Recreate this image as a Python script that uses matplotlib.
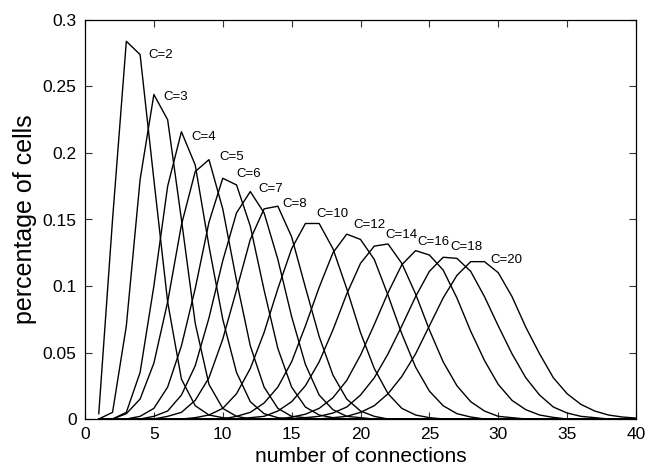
import numpy as np
import matplotlib
matplotlib.use("Agg")
import matplotlib.pyplot as plt

plt.rcParams['font.family'] = ['Liberation Sans', 'DejaVu Sans']

# ----- data: fraction of cells vs number of connections, one curve per C ----- #

connections = np.arange(1, 41)

c2 = [0.004, 0.15, 0.284, 0.274, 0.18, 0.088, 0.03, 0.01, 0.003, 0.001]
c3 = [0, 0.005, 0.07, 0.18, 0.244, 0.225, 0.15, 0.072, 0.026, 0.008, 0.002]
c4 = [0, 0, 0.005, 0.035, 0.10, 0.175, 0.216, 0.191, 0.13, 0.075, 0.035, 0.013, 0.004, 0.001]
c5 = [0, 0, 0.004, 0.015, 0.042, 0.088, 0.146, 0.186, 0.195, 0.158, 0.104, 0.055,
      0.024, 0.008, 0.002, 0.001]
c6 = [0, 0, 0, 0.002, 0.008, 0.024, 0.055, 0.098, 0.148, 0.181, 0.176, 0.145, 0.097,
      0.053, 0.024, 0.009, 0.003, 0.001]
c7 = [0, 0, 0, 0, 0.002, 0.006, 0.018, 0.04, 0.076, 0.119, 0.155, 0.171, 0.155, 0.12,
      0.077, 0.041, 0.018, 0.007, 0.002, 0.001]
c8 = [0, 0, 0, 0, 0, 0.002, 0.005, 0.014, 0.031, 0.06, 0.097, 0.135, 0.158, 0.16,
      0.137, 0.099, 0.062, 0.033, 0.015, 0.006, 0.002]
c10 = [0, 0, 0, 0, 0, 0, 0, 0.001, 0.003, 0.008, 0.019, 0.038, 0.065, 0.098, 0.128,
       0.147, 0.147, 0.128, 0.098, 0.065, 0.038, 0.019, 0.008, 0.003, 0.001]
c12 = [0, 0, 0, 0, 0, 0, 0, 0, 0, 0, 0.002, 0.005, 0.012, 0.024, 0.043, 0.07, 0.099,
       0.125, 0.139, 0.135, 0.12, 0.093, 0.064, 0.039, 0.021, 0.01, 0.004, 0.0015]
c14 = [0, 0, 0, 0, 0, 0, 0, 0, 0, 0, 0, 0.001, 0.002, 0.006, 0.013, 0.025, 0.043,
       0.067, 0.094, 0.117, 0.130, 0.1316, 0.117, 0.094, 0.067, 0.043, 0.025, 0.013,
       0.006, 0.002, 0.001]
c16 = [0, 0, 0, 0, 0, 0, 0, 0, 0, 0, 0, 0, 0, 0, 0.0014, 0.0036, 0.008, 0.016, 0.029,
       0.048, 0.071, 0.095, 0.116, 0.1266, 0.1233, 0.112, 0.091, 0.066, 0.044, 0.026,
       0.014, 0.007, 0.003, 0.0012]
c18 = [0, 0, 0, 0, 0, 0, 0, 0, 0, 0, 0, 0, 0, 0, 0, 0.001, 0.002, 0.0045, 0.009,
       0.018, 0.031, 0.049, 0.07, 0.092, 0.111, 0.1216, 0.1208, 0.111, 0.092, 0.07,
       0.049, 0.031, 0.018, 0.009, 0.0045, 0.002, 0.001]
c20 = [0, 0, 0, 0, 0, 0, 0, 0, 0, 0, 0, 0, 0, 0, 0, 0, 0, 0.001, 0.002, 0.005, 0.01,
       0.019, 0.032, 0.049, 0.07, 0.091, 0.108, 0.1183, 0.1183, 0.11, 0.092, 0.069,
       0.049, 0.031, 0.019, 0.011, 0.006, 0.003, 0.0015, 0.0007]

curves = [c2, c3, c4, c5, c6, c7, c8, c10, c12, c14, c16, c18, c20]
curve_names = ['C=2', 'C=3', 'C=4', 'C=5', 'C=6', 'C=7', 'C=8',
               'C=10', 'C=12', 'C=14', 'C=16', 'C=18', 'C=20']

# where each name sits (left edge, vertical middle)
name_x = [4.6, 5.7, 7.75, 9.75, 11.0, 12.55, 14.35, 16.8, 19.5, 21.8, 24.15, 26.55, 29.4]
name_y = [0.274, 0.242, 0.212, 0.197, 0.184, 0.173, 0.162, 0.154, 0.146, 0.138,
          0.133, 0.1295, 0.1195]

# ----- plot ----- #

fig = plt.figure(figsize=(6.59, 4.69), dpi=100)
ax = fig.add_axes([85/659, 50/469, 551/659, 399/469])

for vals in curves:
    y = np.zeros(len(connections))
    y[:len(vals)] = vals
    ax.plot(connections, y, color='black', linewidth=1.0)

for name, tx, ty in zip(curve_names, name_x, name_y):
    ax.text(tx, ty, name, fontsize=9.5, ha='left', va='center')

ax.set_xlim(0, 40)
ax.set_ylim(0, 0.3)
ax.set_xticks(np.arange(0, 41, 5))
ax.set_yticks([0, 0.05, 0.1, 0.15, 0.2, 0.25, 0.3])
ax.set_yticklabels(['0', '0.05', '0.1', '0.15', '0.2', '0.25', '0.3'])
ax.tick_params(direction='in', top=True, right=True, length=5, width=0.8,
               labelsize=12.5, pad=6, color='#333333')
for sp in ax.spines.values():
    sp.set_linewidth(0.9)

ax.set_xlabel('number of connections', fontsize=15, labelpad=3)
ax.set_ylabel('percentage of cells', fontsize=18, labelpad=4)

fig.savefig('out.png', dpi=100)
